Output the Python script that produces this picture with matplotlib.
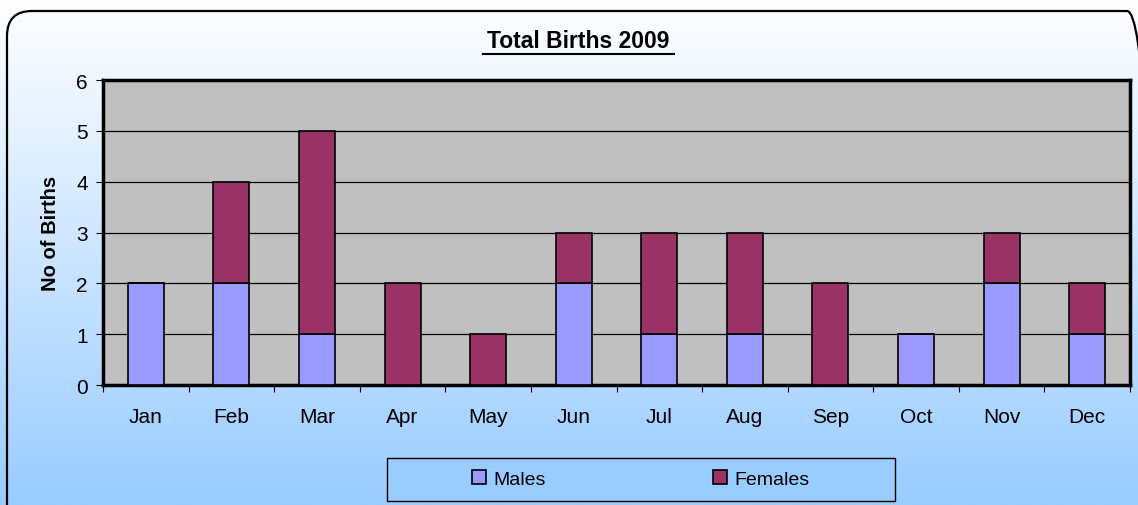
import numpy as np
import matplotlib
matplotlib.use("Agg")
import matplotlib.pyplot as plt
from matplotlib.patches import FancyBboxPatch, Rectangle
from matplotlib.lines import Line2D

plt.rcParams['font.family'] = ['Liberation Sans', 'DejaVu Sans']

months = ['Jan', 'Feb', 'Mar', 'Apr', 'May', 'Jun', 'Jul', 'Aug', 'Sep', 'Oct', 'Nov', 'Dec']
males = [2, 2, 1, 0, 0, 2, 1, 1, 0, 1, 2, 1]
females = [0, 2, 4, 2, 1, 1, 2, 2, 2, 0, 1, 1]

W, H = 1138, 506
fig = plt.figure(figsize=(W / 100, H / 100), dpi=100)

# background gradient white -> light blue, in pixel coords
bg = fig.add_axes([0, 0, 1, 1], zorder=-10)
grad = np.linspace(0, 1, 256)[:, None]
top = np.array([1.0, 1.0, 1.0])
bot = np.array([153, 204, 255]) / 255
img = top[None, None, :] * (1 - grad[:, :, None]) + bot[None, None, :] * grad[:, :, None]
bg.imshow(img, aspect='auto', extent=[0, W, 0, H], origin='upper')
bg.set_xlim(0, W); bg.set_ylim(0, H); bg.axis('off')
# rounded border, runs off right/bottom edges
box = FancyBboxPatch((7, -40), 1152 - 7, (H - 12) + 40,
                     boxstyle="round,pad=0,rounding_size=25",
                     fill=False, edgecolor='black', lw=1.6)
bg.add_patch(box)

ax = fig.add_axes([103 / W, 1 - 386 / H, (1130 - 103) / W, (386 - 81) / H])
x = np.arange(len(months))
ax.set_facecolor('#C0C0C0')
ax.bar(x, males, width=0.42, color='#9999FF', edgecolor='black', lw=1.2, label='Males', zorder=3)
ax.bar(x, females, width=0.42, bottom=males, color='#993366', edgecolor='black', lw=1.2, label='Females', zorder=3)
ax.set_xlim(-0.5, len(months) - 0.5)
ax.set_ylim(0, 6)
ax.set_yticks(range(7))
ax.yaxis.grid(True, color='black', lw=0.9, zorder=1)
ax.set_axisbelow(True)
ax.set_xticks(x)
ax.set_xticklabels(months, fontsize=15)
ax.tick_params(axis='x', length=0, pad=16)
ax.set_xticks(np.arange(-0.5, len(months), 1), minor=True)
ax.tick_params(axis='x', which='minor', length=5, width=0.8, direction='out')
ax.tick_params(axis='y', length=5, width=0.8, labelsize=15, pad=6)
for s in ax.spines.values():
    s.set_linewidth(2.5)
ax.set_ylabel('No of Births', fontsize=14.5, fontweight='bold', labelpad=0)
ax.yaxis.set_label_coords((60 - 103) / (1130 - 103), 0.5)

# title with underline
fig.text(578 / W, 1 - 41 / H, 'Total Births 2009', ha='center', va='center', fontsize=16.5, fontweight='bold')
fig.add_artist(Line2D([483 / W, 674 / W], [1 - 55 / H] * 2, color='black', lw=1.5, transform=fig.transFigure))

# legend box
fig.add_artist(Rectangle((387 / W, 1 - 502 / H), (895 - 387) / W, 43 / H, transform=fig.transFigure,
                         facecolor='#9ACDFF', edgecolor='black', lw=1.0, zorder=5))
h, l = ax.get_legend_handles_labels()
leg = fig.legend(h, l, loc='center', bbox_to_anchor=(641 / W, 1 - 480 / H), ncol=2, frameon=False,
                 fontsize=14, handlelength=0.7, handleheight=0.7, handletextpad=0.4, columnspacing=8.6)
leg.set_zorder(6)

fig.savefig('out.png', dpi=100)
